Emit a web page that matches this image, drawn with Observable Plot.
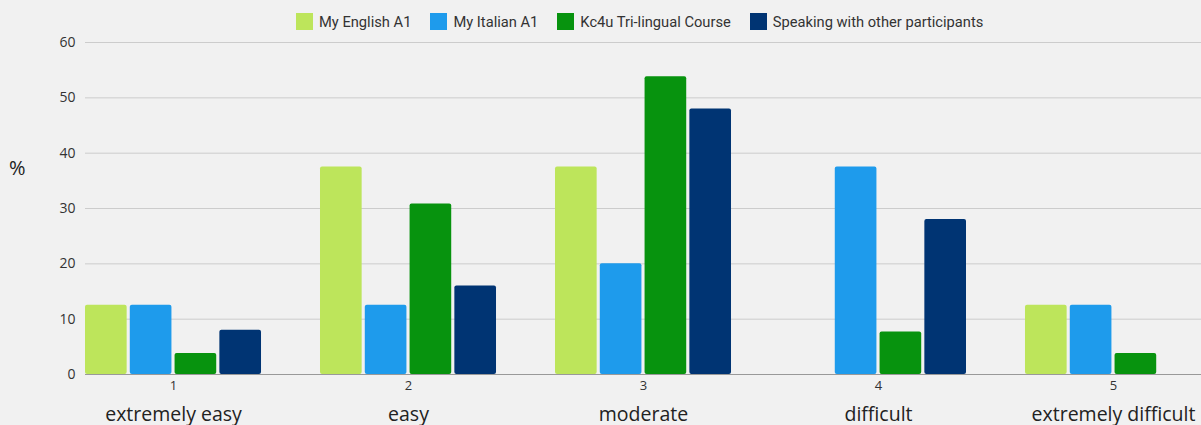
<!DOCTYPE html>
<html>
<head>
<meta charset="utf-8">
<script src="https://cdn.jsdelivr.net/npm/d3@7"></script>
<script src="https://cdn.jsdelivr.net/npm/@observablehq/plot@0.6"></script>
<style>
  html, body { margin: 0; padding: 0; background: #f1f1f1; }
  #wrap { position: relative; width: 1201px; height: 425px; overflow: hidden; background: #f1f1f1; }
  #legend { position: absolute; left: 296px; top: 13px; height: 17px; display: flex; align-items: center;
    font-family: Roboto, "Noto Sans", sans-serif; font-size: 14.7px; color: #333; gap: 19px; white-space: nowrap; }
  #legend .item { display: flex; align-items: center; gap: 6px; }
  #legend .sw { width: 17px; height: 17px; display: inline-block; }
  #chart { position: absolute; left: 0; top: 30px; }
  #ylabel { position: absolute; left: 9px; top: 154px; font-family: "Open Sans", sans-serif; font-size: 20px; color: #222; }
</style>
</head>
<body>
<div id="wrap">
  <div id="legend"></div>
  <div id="chart"></div>
  <div id="ylabel">%</div>
</div>
<script>
const levels = [1, 2, 3, 4, 5];
const levelLabels = ["extremely easy", "easy", "moderate", "difficult", "extremely difficult"];
const series = ["My English A1", "My Italian A1", "Kc4u Tri-lingual Course", "Speaking with other participants"];
const colors = ["#bde55b", "#1e9bec", "#07930e", "#003473"];
const english = [12.5, 37.5, 37.5, 0, 12.5];
const italian = [12.5, 12.5, 20, 37.5, 12.5];
const kc4u = [3.8, 30.8, 53.8, 7.7, 3.8];
const speaking = [8, 16, 48, 28, 0];
const yTicks = [0, 10, 20, 30, 40, 50, 60];

const values = [english, italian, kc4u, speaking];
const data = levels.flatMap((l, i) => series.map((s, j) => ({level: l, series: s, value: values[j][i]})));

const legend = document.getElementById("legend");
series.forEach((s, i) => {
  const it = document.createElement("div");
  it.className = "item";
  it.innerHTML = `<span class="sw" style="background:${colors[i]}"></span><span>${s}</span>`;
  legend.appendChild(it);
});

const W = 1201, ML = 85, MR = 0;
const chart = Plot.plot({
  width: W,
  height: 395,
  marginLeft: ML,
  marginRight: MR,
  marginTop: 12,
  marginBottom: 51,
  style: {background: "#f1f1f1", fontFamily: "'Open Sans', sans-serif", fontSize: "13px", color: "#333", overflow: "visible"},
  fx: {domain: levels, paddingInner: 0.251, paddingOuter: 0, round: false, label: null, axis: null},
  x: {domain: series, paddingInner: 0.07, paddingOuter: 0, round: false, axis: null},
  y: {domain: [0, 60], label: null, axis: null},
  color: {domain: series, range: colors},
  marks: [
    Plot.axisY({ticks: yTicks.filter(d => d > 0), tickSize: -(W - ML - MR), text: null, label: null, stroke: "#cccccc"}),
    Plot.barY(data.filter(d => d.value > 0), {fx: "level", x: "series", y: "value", fill: "series", rx: 2}),
    Plot.axisY({ticks: [0], tickSize: -(W - ML - MR), text: null, label: null, stroke: "#999999"}),
    Plot.axisY({ticks: yTicks, tickSize: 0, tickPadding: 10, label: null, fontSize: 14, fill: "#333"}),
    Plot.axisFx({domain: levels, tickSize: 0, tickPadding: 6, label: null, fontSize: 13, fill: "#333", anchor: "bottom"}),
    Plot.text(levels, {fx: d => d, text: (d, i) => levelLabels[i], frameAnchor: "bottom", dy: 46, fontSize: 19.5, fill: "#222"})
  ]
});
document.getElementById("chart").appendChild(chart);
</script>
</body>
</html>
